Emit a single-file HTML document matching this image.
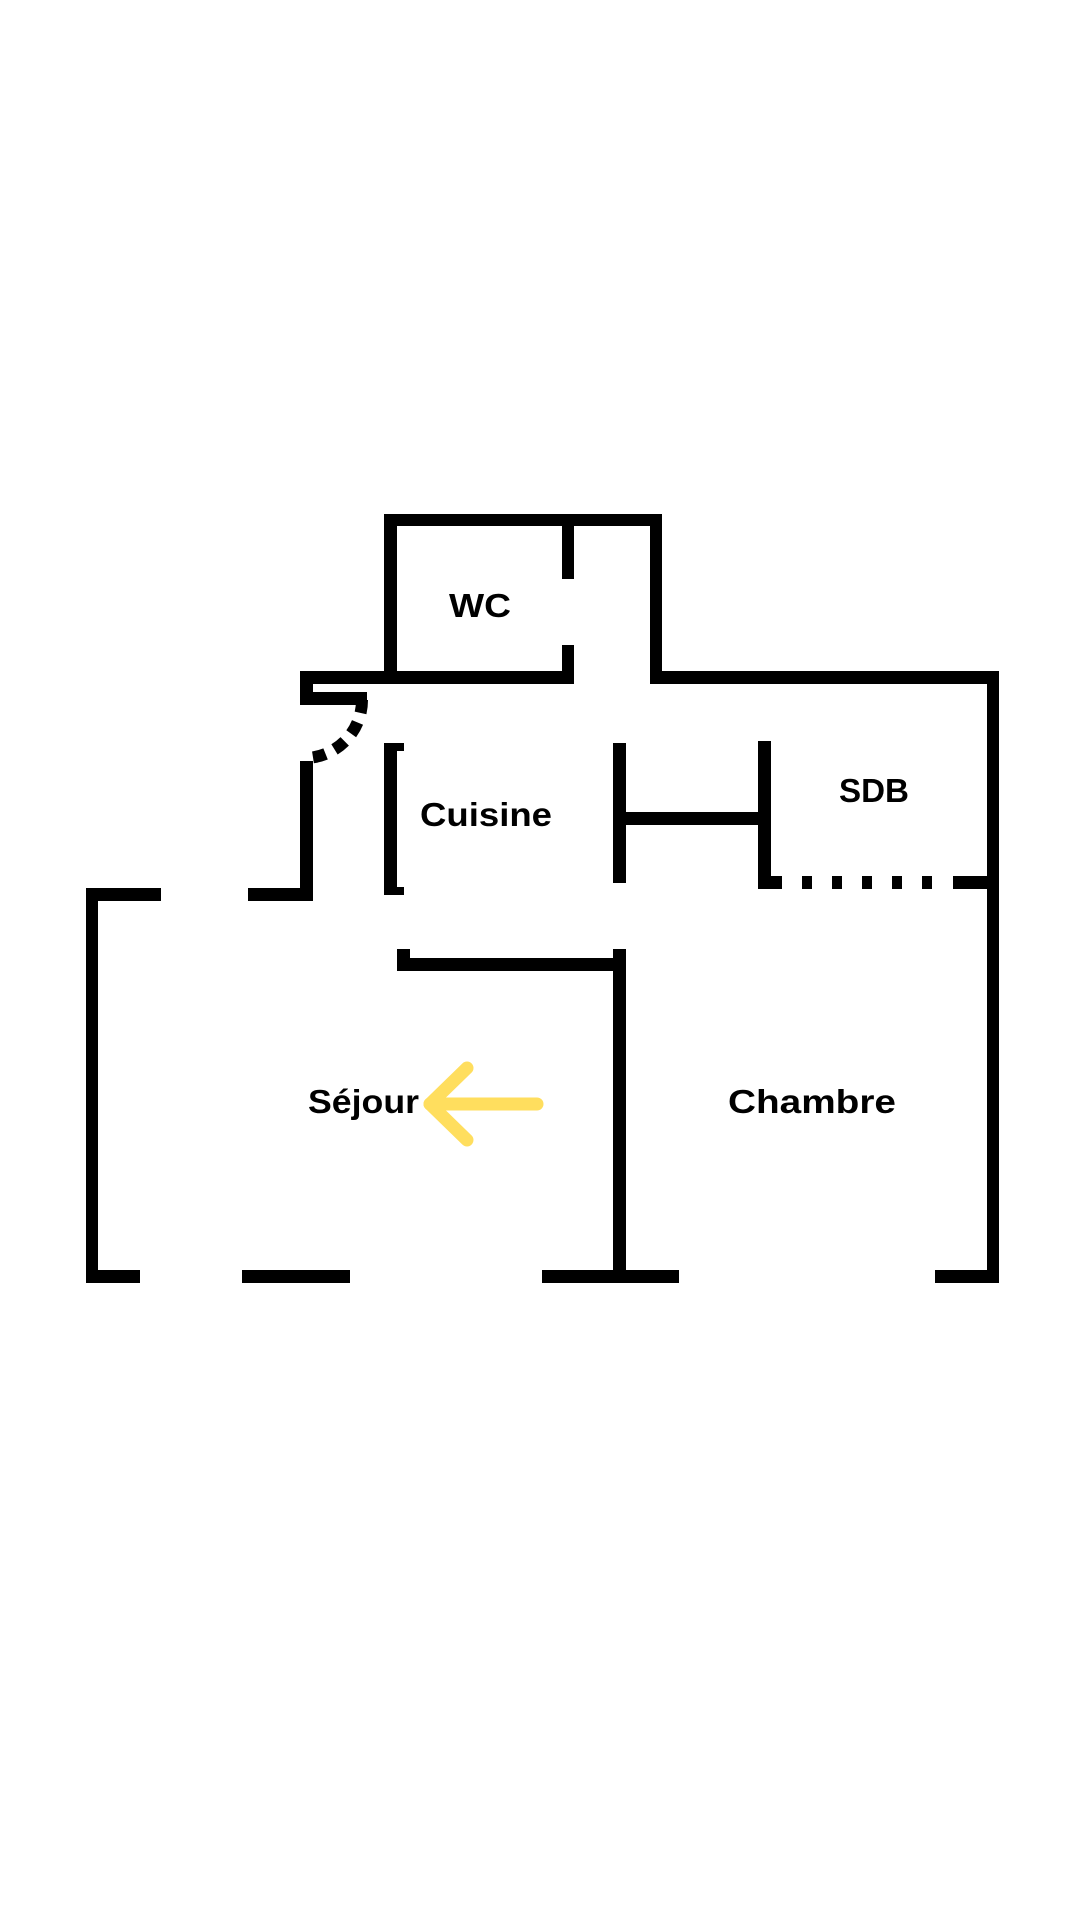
<!DOCTYPE html>
<html><head><style>html,body{margin:0;padding:0;background:#fff;}svg{display:block}</style></head>
<body>
<svg width="1080" height="1920" viewBox="0 0 1080 1920" xmlns="http://www.w3.org/2000/svg">
<rect width="1080" height="1920" fill="#fff"/>
<g fill="#000">
<!-- WC box -->
<rect x="384" y="514" width="278" height="12"/>
<rect x="384" y="514" width="13" height="170"/>
<rect x="650" y="514" width="12" height="170"/>
<rect x="300" y="671" width="274" height="13"/>
<rect x="562" y="526" width="12" height="53"/>
<rect x="562" y="645" width="12" height="39"/>
<!-- right top wall -->
<rect x="650" y="671" width="349" height="13"/>
<rect x="987" y="671" width="12" height="612"/>
<!-- small L near door -->
<rect x="300" y="671" width="13" height="34"/>
<rect x="300" y="692" width="67" height="13"/>
<!-- left vertical -->
<rect x="300" y="761" width="13" height="140"/>
<rect x="248" y="888" width="65" height="13"/>
<!-- outer left -->
<rect x="86" y="888" width="75" height="13"/>
<rect x="86" y="888" width="12" height="395"/>
<!-- cuisine bracket -->
<rect x="384" y="743" width="13" height="152"/>
<rect x="384" y="743" width="20" height="8"/>
<rect x="384" y="887" width="20" height="8"/>
<!-- middle H -->
<rect x="613" y="743" width="13" height="140"/>
<rect x="613" y="812" width="150" height="13"/>
<rect x="758" y="741" width="13" height="148"/>
<rect x="758" y="876" width="24" height="13"/>
<rect x="802" y="876" width="10" height="13"/>
<rect x="832" y="876" width="10" height="13"/>
<rect x="862" y="876" width="10" height="13"/>
<rect x="892" y="876" width="10" height="13"/>
<rect x="922" y="876" width="10" height="13"/>
<rect x="953" y="876" width="40" height="13"/>
<!-- sejour inner -->
<rect x="397" y="949" width="13" height="22"/>
<rect x="397" y="958" width="229" height="13"/>
<rect x="613" y="949" width="13" height="334"/>
<!-- bottom -->
<rect x="86" y="1270" width="54" height="13"/>
<rect x="242" y="1270" width="108" height="13"/>
<rect x="542" y="1270" width="137" height="13"/>
<rect x="935" y="1270" width="64" height="13"/>
</g>
<!-- door arc -->
<path d="M362 700 A58 58 0 0 1 307 758" fill="none" stroke="#000" stroke-width="12" stroke-dasharray="13 10"/>
<!-- arrow -->
<g stroke="#FFDE5E" stroke-width="13" stroke-linecap="round" stroke-linejoin="round" fill="none">
<path d="M537 1104 H430"/>
<path d="M467 1068 L430 1104 L467 1140"/>
</g>
<g font-family="Liberation Sans, sans-serif" font-weight="bold" font-size="33" fill="#000">
<text x="449" y="617" textLength="62" lengthAdjust="spacingAndGlyphs">WC</text>
<text x="420" y="826" textLength="132" lengthAdjust="spacingAndGlyphs">Cuisine</text>
<text x="839" y="802" textLength="70" lengthAdjust="spacingAndGlyphs">SDB</text>
<text x="308" y="1113" textLength="111" lengthAdjust="spacingAndGlyphs">Séjour</text>
<text x="728" y="1113" textLength="168" lengthAdjust="spacingAndGlyphs">Chambre</text>
</g>
</svg>
</body></html>
